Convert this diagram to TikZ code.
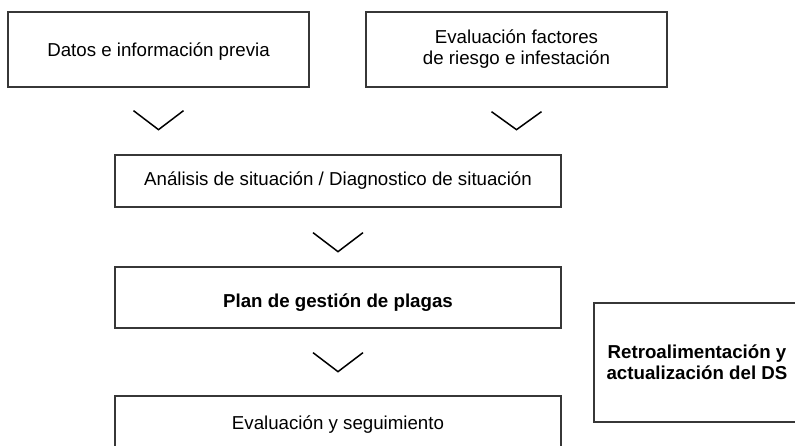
\documentclass[tikz,border=0pt]{standalone}
\usepackage{fontspec}
\setmainfont{Liberation Sans}
\usetikzlibrary{calc}
\definecolor{boxline}{RGB}{55,55,55}
\begin{document}
\begin{tikzpicture}[x=1pt,y=-1pt,
  stepbox/.style={draw=boxline,line width=1.3pt,inner sep=0pt,align=center,
    font=\fontsize{18.7}{21}\selectfont,anchor=center},
  chev/.style={draw=black,line width=1.5pt,line join=miter}]
\clip (0,0) rectangle (795,445);
\fill[white] (0,0) rectangle (795,445);
\node[stepbox,minimum width=301pt,minimum height=75pt] (b1) at (158.5,49.5) {\raisebox{-2pt}[\height][\depth]{Datos e información previa}};
\node[stepbox,minimum width=301pt,minimum height=75pt] (b2) at (516.5,49.5) {Evaluación factores\\de riesgo e infestación};
\node[stepbox,minimum width=446pt,minimum height=52pt] (b3) at (338,181) {Análisis de situación / Diagnostico de situación};
\node[stepbox,minimum width=446pt,minimum height=61pt] (b4) at (338,297.5) {\raisebox{-5pt}[\height][\depth]{\bfseries Plan de gestión de plagas}};
\node[stepbox,minimum width=446pt,minimum height=54pt] (b5) at (338,423) {\raisebox{-2pt}[\height][\depth]{Evaluación y seguimiento}};
\node[stepbox,minimum width=206pt,minimum height=119pt] (b6) at (697,362.5) {\bfseries Retroalimentación y\\\bfseries actualización del DS};
\draw[chev] ($(b1.south)+(-25,23)$) -- ++(25,19) -- ++(25,-19);
\draw[chev] ($(b2.south)+(-25,24)$) -- ++(25,18) -- ++(25,-18);
\draw[chev] ($(b3.south)+(-25,25)$) -- ++(25,19) -- ++(25,-19);
\draw[chev] ($(b4.south)+(-25,24)$) -- ++(25,19) -- ++(25,-19);
\end{tikzpicture}
\end{document}
